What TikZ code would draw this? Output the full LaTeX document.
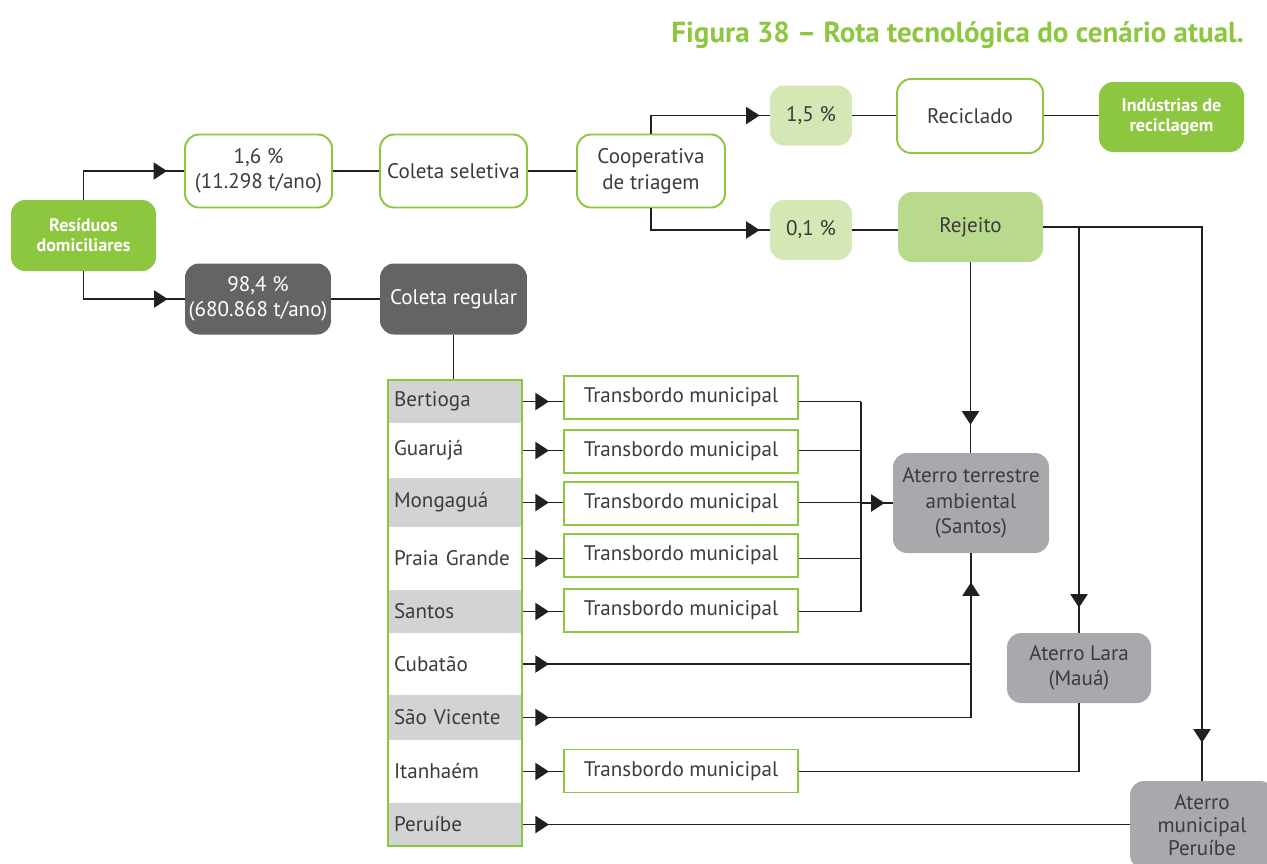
\documentclass[tikz,border=0pt]{standalone}
\usepackage{fontspec}
\setmainfont{PT Sans}
\usepackage{xcolor}
\usetikzlibrary{arrows.meta,calc,positioning,decorations.markings}
\definecolor{verde}{HTML}{8DC63F}
\definecolor{verdeclaro}{HTML}{D4E7B4}
\definecolor{verdemedio}{HTML}{B9DA8C}
\definecolor{cinzaescuro}{HTML}{636466}
\definecolor{cinzamedio}{HTML}{A7A9AC}
\definecolor{cinzaclaro}{HTML}{D1D3D4}
\definecolor{texto}{HTML}{3C3C3C}
\definecolor{linhacor}{HTML}{231F20}
\newcommand{\txtnormal}{\fontsize{12}{14.5}\selectfont}
\newcommand{\txtnegrito}{\bfseries\fontsize{10.3}{11.5}\selectfont}
\tikzset{
  linha/.style={line width=1.1pt, draw=linhacor},
  seta/.style={postaction={decorate, decoration={markings,
      mark=at position #1 with {\arrow{Triangle[length=0.27cm,width=0.34cm]}}}}},
  caixa/.style={draw=verde, line width=1.1pt, rounded corners=0.28cm, fill=white,
      text=texto, align=center, font=\txtnormal, inner sep=0pt},
  caixaverde/.style={rounded corners=0.28cm, fill=verde, text=white, align=center,
      font=\txtnegrito, inner sep=0pt},
  caixaescura/.style={rounded corners=0.28cm, fill=cinzaescuro, text=white,
      align=center, font=\txtnormal, inner sep=0pt},
  caixaclara/.style={rounded corners=0.28cm, fill=verdeclaro, text=texto,
      align=center, font=\txtnormal, inner sep=0pt},
  aterro/.style={rounded corners=0.28cm, fill=cinzamedio, text=texto,
      align=center, font=\txtnormal, inner sep=0pt},
  cidade/.style={minimum width=2.68cm, text width=2.44cm, inner xsep=0.12cm,
      inner ysep=0pt, align=left, font=\txtnormal, text=texto},
  transb/.style={draw=verde, line width=1.1pt, fill=white, minimum width=4.68cm,
      minimum height=0.86cm, font=\txtnormal, text=texto, inner sep=0pt}
}
\begin{document}
\begin{tikzpicture}[x=0.02cm, y=-0.02cm]
  \useasboundingbox (0,0) rectangle (1267,863);

  % Title
  \node[anchor=base east, text=verde, font=\bfseries\fontsize{16.5}{20}\selectfont] (titulo) at (1250,42) {Figura 38 – Rota tecnológica do cenário atual.};

  % Upper part of the route
  \node[caixaverde, minimum width=2.9cm, minimum height=1.42cm] (residuos) at (83.5,235.5) {Resíduos\\domiciliares};
  \node[caixa, minimum width=2.94cm, minimum height=1.46cm] (p16) at (258.5,171) {1,6 \%\\(11.298 t/ano)};
  \node[caixaescura, minimum width=2.92cm, minimum height=1.42cm] (p984) at (258,299) {98,4 \%\\(680.868 t/ano)};
  \node[caixa, minimum width=2.94cm, minimum height=1.46cm] (seletiva) at (453.5,171) {Coleta seletiva};
  \node[caixaescura, minimum width=2.94cm, minimum height=1.42cm] (regular) at (453.5,299) {Coleta regular};
  \node[caixa, minimum width=2.96cm, minimum height=1.46cm] (coop) at (651,171) {Cooperativa\\de triagem};
  \node[caixaclara, minimum width=1.64cm, minimum height=1.2cm] (p15) at (811,115.5) {1,5 \%};
  \node[caixaclara, minimum width=1.64cm, minimum height=1.2cm] (p01) at (811,230) {0,1 \%};
  \node[caixa, minimum width=2.92cm, minimum height=1.48cm] (reciclado) at (970,116) {Reciclado};
  \node[caixaverde, minimum width=2.9cm, minimum height=1.4cm] (industrias) at (1171.5,117) {Indústrias de\\reciclagem};
  \node[caixaclara, fill=verdemedio, minimum width=2.9cm, minimum height=1.4cm] (rejeito) at (970.5,227) {Rejeito};

  % Landfills
  \node[aterro, minimum width=3.12cm, minimum height=2cm] (santos) at (971,503) {Aterro terrestre\\ambiental\\(Santos)};
  \node[aterro, minimum width=2.88cm, minimum height=1.4cm] (lara) at (1079,668) {Aterro Lara\\(Mauá)};
  \node[aterro, minimum width=2.88cm, minimum height=1.76cm, font=\fontsize{12}{13.2}\selectfont] (peruibe) at (1202,825) {Aterro\\municipal\\Peruíbe};

  % Municipalities
  \node[cidade, fill=cinzaclaro, minimum height=0.86cm] (be) at (455,401.5) {Bertioga};
  \node[cidade, minimum height=1.1cm] (gu) at (455,450.5) {Guarujá};
  \node[cidade, fill=cinzaclaro, minimum height=0.98cm] (mo) at (455,502.5) {Mongaguá};
  \node[cidade, minimum height=1.26cm] (pg) at (455,558.5) {Praia Grande};
  \node[cidade, fill=cinzaclaro, minimum height=0.86cm] (sa) at (455,611.5) {Santos};
  \node[cidade, minimum height=1.24cm] (cu) at (455,664) {Cubatão};
  \node[cidade, fill=cinzaclaro, minimum height=0.9cm] (sv) at (455,717.5) {São Vicente};
  \node[cidade, minimum height=1.26cm] (it) at (455,771.5) {Itanhaém};
  \node[cidade, fill=cinzaclaro, minimum height=0.86cm] (pe) at (455,824.5) {Peruíbe};
  \node[draw=verde, line width=1.1pt, minimum width=2.68cm, minimum height=9.32cm] (lista) at (455,613) {};

  % Transfer stations
  \node[transb] (tbBe) at (681,397.5) {Transbordo municipal};
  \node[transb] (tbGu) at (681,451.5) {Transbordo municipal};
  \node[transb] (tbMo) at (681,503.5) {Transbordo municipal};
  \node[transb] (tbPg) at (681,555.5) {Transbordo municipal};
  \node[transb] (tbSa) at (681,610.5) {Transbordo municipal};
  \node[transb] (tbIt) at (681,771) {Transbordo municipal};
  \coordinate (barra) at (861,0);

  % Connectors, upper part
  \draw[linha, seta=-0.34cm] (residuos.north) |- (p16.west);
  \draw[linha, seta=-0.34cm] (residuos.south) |- (p984.west);
  \draw[linha] (p16) -- (seletiva);
  \draw[linha] (seletiva) -- (coop);
  \draw[linha] (p984) -- (regular);
  \draw[linha] (regular.south) -- (lista.north -| regular.south);
  \draw[linha, seta=-0.2cm] (coop.north) |- (p15.west);
  \draw[linha, seta=-0.2cm] (coop.south) |- (p01.west);
  \draw[linha] (p15.east) -- (reciclado.west |- p15.east);
  \draw[linha] (reciclado.east |- p15.east) -- (industrias.west |- p15.east);
  \draw[linha] (p01.east) -- (rejeito.west |- p01.east);
  \draw[linha, seta=-0.56cm] (rejeito.south) -- (santos.north -| rejeito.south);
  \draw[linha, seta=-0.76cm] (rejeito.east) -| (peruibe.north);
  \draw[linha, seta=-0.5cm] (lara.north |- rejeito.east) -- (lara.north);

  % Connectors, municipalities
  \foreach \c/\t in {be/tbBe, gu/tbGu, mo/tbMo, pg/tbPg, sa/tbSa, it/tbIt}
    \draw[linha, seta=0.52cm] (lista.east |- \c.east) -- (\t.west |- \c.east);
  \foreach \c/\t in {be/tbBe, gu/tbGu, mo/tbMo, pg/tbPg, sa/tbSa}
    \draw[linha] (\t.east |- \c.east) -- (barra |- \c.east);
  \draw[linha] (barra |- be.east) -- (barra |- sa.east);
  \draw[linha, seta=-0.16cm] (barra |- santos.west) -- (santos.west);
  \draw[linha, seta=0.52cm] (lista.east |- cu.east) -- (santos.south |- cu.east);
  \draw[linha, seta=0.52cm, seta=-0.58cm] (lista.east |- sv.east) -| (santos.south);
  \draw[linha] (tbIt.east |- it.east) -| (lara.south);
  \draw[linha, seta=0.52cm] (lista.east |- pe.east) -- (peruibe.west |- pe.east);
\end{tikzpicture}
\end{document}
